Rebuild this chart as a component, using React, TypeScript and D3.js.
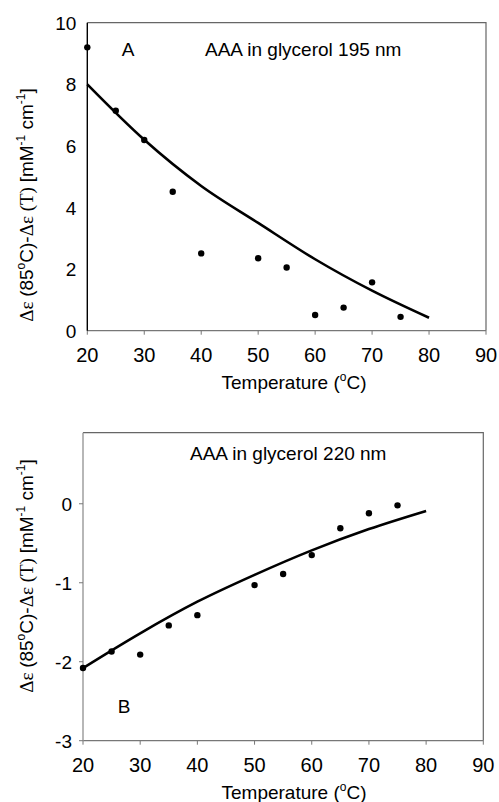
import { useEffect, useRef } from 'react'
import * as d3 from 'd3'

const temps = [20, 25, 30, 35, 40, 50, 55, 60, 65, 70, 75]
const valuesA = [9.2, 7.14, 6.19, 4.51, 2.51, 2.35, 2.05, 0.51, 0.75, 1.57, 0.45]
const valuesB = [-2.08, -1.87, -1.91, -1.54, -1.41, -1.03, -0.89, -0.65, -0.31, -0.12, -0.02]

const fitTemps = [20, 30, 40, 50, 60, 70, 80]
const fitA = [8.0, 6.2, 4.7, 3.5, 2.32, 1.3, 0.42]
const fitB = [-2.08, -1.64, -1.24, -0.9, -0.59, -0.32, -0.09]

const xTicks = [20, 30, 40, 50, 60, 70, 80, 90]
const yTicksA = [0, 2, 4, 6, 8, 10]
const yTicksB = [-3, -2, -1, 0]

const SANS = '"Liberation Sans", Arial, sans-serif'
const SERIF = '"Liberation Serif", "Times New Roman", serif'

type PanelCfg = {
  values: number[]
  fit: number[]
  yTicks: number[]
  yDomain: [number, number]
  left: number
  right: number
  top: number
  bottom: number
  leftAxisColor: string
  leftTicks: boolean
  letter: string
  letterPos: [number, number]
  title: string
  titlePos: [number, number]
  yLabelCenter: [number, number]
  xTitleX: number
}

const panels: PanelCfg[] = [
  {
    values: valuesA, fit: fitA, yTicks: yTicksA, yDomain: [0, 10],
    left: 87.3, right: 486, top: 22.7, bottom: 330.7,
    leftAxisColor: '#000', leftTicks: false,
    letter: 'A', letterPos: [128, 56],
    title: 'AAA in glycerol 195 nm', titlePos: [205, 56],
    yLabelCenter: [33, 205],
    xTitleX: 294,
  },
  {
    values: valuesB, fit: fitB, yTicks: yTicksB, yDomain: [-3, 0.9],
    left: 83, right: 483.3, top: 432.7, bottom: 740.7,
    leftAxisColor: '#999', leftTicks: true,
    letter: 'B', letterPos: [124, 713],
    title: 'AAA in glycerol 220 nm', titlePos: [190, 460],
    yLabelCenter: [33, 576],
    xTitleX: 294,
  },
]

export default function App() {
  const svgRef = useRef<SVGSVGElement>(null)

  useEffect(() => {
    const svg = d3.select(svgRef.current)
    svg.selectAll('*').remove()

    panels.forEach(p => {
      const x = d3.scaleLinear().domain([20, 90]).range([p.left, p.right])
      const y = d3.scaleLinear().domain(p.yDomain).range([p.bottom, p.top])
      const g = svg.append('g')

      // frame (top + right)
      g.append('path')
        .attr('d', `M${p.left},${p.top}H${p.right}V${p.bottom}`)
        .attr('fill', 'none')
        .attr('stroke', '#666')
        .attr('stroke-width', 1.2)

      // x axis
      g.append('line')
        .attr('x1', p.left).attr('x2', p.right)
        .attr('y1', p.bottom).attr('y2', p.bottom)
        .attr('stroke', '#777').attr('stroke-width', 1.2)
      g.selectAll('.xt')
        .data(xTicks)
        .join('line')
        .attr('x1', d => x(d)).attr('x2', d => x(d))
        .attr('y1', p.bottom).attr('y2', p.bottom + 4)
        .attr('stroke', '#777')
      g.selectAll('.xl')
        .data(xTicks)
        .join('text')
        .attr('x', d => x(d))
        .attr('y', p.bottom + 31)
        .attr('text-anchor', 'middle')
        .attr('font-family', SANS)
        .attr('font-size', 20)
        .text(d => d)

      g.append('text')
        .attr('x', p.xTitleX)
        .attr('y', p.bottom + 58)
        .attr('text-anchor', 'middle')
        .attr('font-family', SANS)
        .attr('font-size', 19)
        .call(t => {
          t.append('tspan').text('Temperature (')
          t.append('tspan').attr('font-size', 12).attr('dy', -8).text('o')
          t.append('tspan').attr('dy', 8).text('C)')
        })

      // y axis
      g.append('line')
        .attr('x1', p.left).attr('x2', p.left)
        .attr('y1', p.top).attr('y2', p.bottom)
        .attr('stroke', p.leftAxisColor).attr('stroke-width', 1.4)
      if (p.leftTicks) {
        g.selectAll('.yt')
          .data(p.yTicks)
          .join('line')
          .attr('x1', p.left - 4).attr('x2', p.left)
          .attr('y1', d => y(d)).attr('y2', d => y(d))
          .attr('stroke', '#777')
      }
      g.selectAll('.yl')
        .data(p.yTicks)
        .join('text')
        .attr('x', p.left - 11)
        .attr('y', d => y(d) + 7)
        .attr('text-anchor', 'end')
        .attr('font-family', SANS)
        .attr('font-size', 19)
        .text(d => d)

      // y label
      g.append('text')
        .attr('transform', `translate(${p.yLabelCenter[0]},${p.yLabelCenter[1]}) rotate(-90)`)
        .attr('text-anchor', 'middle')
        .attr('font-family', SANS)
        .attr('font-size', 19)
        .call(t => {
          t.append('tspan').attr('font-family', SERIF).text('Δε ')
          t.append('tspan').text('(85')
          t.append('tspan').attr('font-size', 12).attr('dy', -8).text('o')
          t.append('tspan').attr('dy', 8).text('C)-')
          t.append('tspan').attr('font-family', SERIF).text('Δε (T) ')
          t.append('tspan').text('[mM')
          t.append('tspan').attr('font-size', 12).attr('dy', -8).text('-1')
          t.append('tspan').attr('dy', 8).text(' cm')
          t.append('tspan').attr('font-size', 12).attr('dy', -8).text('-1')
          t.append('tspan').attr('dy', 8).text(']')
        })

      // fit curve
      const line = d3.line<number>()
        .x((d, i) => x(fitTemps[i]))
        .y(d => y(d))
        .curve(d3.curveMonotoneX)
      g.append('path')
        .attr('d', line(p.fit))
        .attr('fill', 'none')
        .attr('stroke', '#000')
        .attr('stroke-width', 2.6)

      // points
      g.selectAll('.pt')
        .data(p.values)
        .join('circle')
        .attr('cx', (d, i) => x(temps[i]))
        .attr('cy', d => y(d))
        .attr('r', 3.2)
        .attr('fill', '#000')

      // annotations
      g.append('text')
        .attr('x', p.letterPos[0]).attr('y', p.letterPos[1])
        .attr('text-anchor', 'middle')
        .attr('font-family', SANS).attr('font-size', 19)
        .text(p.letter)
      g.append('text')
        .attr('x', p.titlePos[0]).attr('y', p.titlePos[1])
        .attr('font-family', SANS).attr('font-size', 19)
        .text(p.title)
    })
  }, [])

  return (
    <svg
      ref={svgRef}
      width={499}
      height={802}
      style={{ position: 'absolute', left: 0, top: 0, background: '#fff' }}
    />
  )
}
